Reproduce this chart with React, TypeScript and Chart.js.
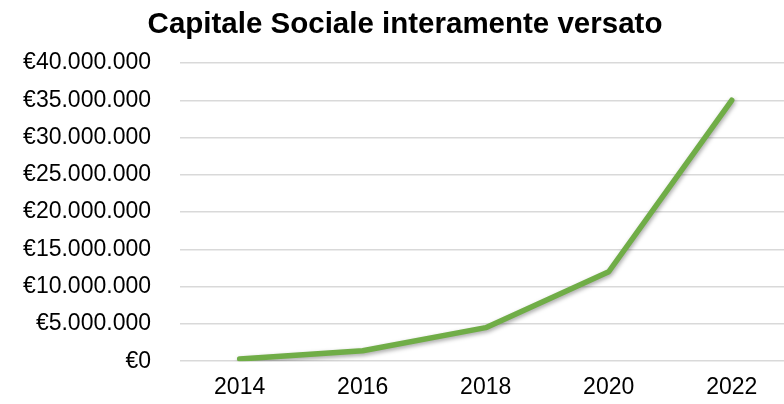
import React, { useEffect, useRef } from "react";
import { Chart, registerables } from "chart.js";

Chart.register(...registerables);

const years = [2014, 2016, 2018, 2020, 2022];
const capitale = [300000, 1400000, 4500000, 12000000, 35000000];
const chartTitle = "Capitale Sociale interamente versato";

const FONT = "'Liberation Sans', Arial, sans-serif";

const fmt = (v: number) => "€" + Math.round(v).toString().replace(/\B(?=(\d{3})+(?!\d))/g, ".");

const shadowPlugin = {
  id: "lineShadow",
  beforeDatasetDraw(chart: any) {
    const ctx = chart.ctx;
    ctx.save();
    ctx.shadowColor = "rgba(0,0,0,0.35)";
    ctx.shadowBlur = 4;
    ctx.shadowOffsetX = 1;
    ctx.shadowOffsetY = 2;
  },
  afterDatasetDraw(chart: any) {
    chart.ctx.restore();
  },
};

const titlePlugin = {
  id: "customTitle",
  afterDraw(chart: any) {
    const ctx = chart.ctx;
    ctx.save();
    ctx.font = `bold 29.5px ${FONT}`;
    ctx.fillStyle = "#000";
    ctx.textAlign = "center";
    ctx.textBaseline = "middle";
    ctx.fillText(chartTitle, 405, 25);
    ctx.restore();
  },
};

export default function App() {
  const ref = useRef<HTMLCanvasElement>(null);
  useEffect(() => {
    document.body.style.margin = "0";
    const chart = new Chart(ref.current!, {
      type: "line",
      data: {
        datasets: [
          {
            data: years.map((y, i) => ({ x: y, y: capitale[i] })),
            borderColor: "#70AD47",
            borderWidth: 5.5,
            pointRadius: 0,
            borderCapStyle: "round",
            borderJoinStyle: "round",
            tension: 0,
            fill: false,
          },
        ],
      },
      options: {
        animation: false,
        responsive: false,
        maintainAspectRatio: false,
        layout: { padding: { left: 0, right: 0, top: 63, bottom: 0 } },
        plugins: {
          legend: { display: false },
          tooltip: { enabled: false },
          title: { display: false },
        },
        scales: {
          x: {
            type: "linear",
            min: 2013.03,
            max: 2022.85,
            grid: { display: false, drawTicks: false },
            border: { display: false },
            afterBuildTicks: (s: any) => {
              s.ticks = years.map((v) => ({ value: v }));
            },
            afterFit: (s: any) => {
              s.height = 35;
            },
            ticks: {
              color: "#000",
              font: { family: FONT, size: 23 },
              padding: 13,
              maxRotation: 0,
              autoSkip: false,
              callback: (v: any) => String(v),
            },
          },
          y: {
            min: 0,
            max: 40000000,
            grid: { color: "#d9d9d9", lineWidth: 1.5, drawTicks: false },
            border: { display: false },
            afterFit: (s: any) => {
              s.width = 180;
            },
            ticks: {
              stepSize: 5000000,
              color: "#000",
              font: { family: FONT, size: 23 },
              padding: 29,
              callback: (v: any) => fmt(Number(v)),
            },
          },
        },
      },
      plugins: [shadowPlugin, titlePlugin],
    });
    return () => chart.destroy();
  }, []);
  return (
    <div style={{ width: 784, height: 404, background: "#fff" }}>
      <canvas ref={ref} width={784} height={404} style={{ display: "block" }} />
    </div>
  );
}
